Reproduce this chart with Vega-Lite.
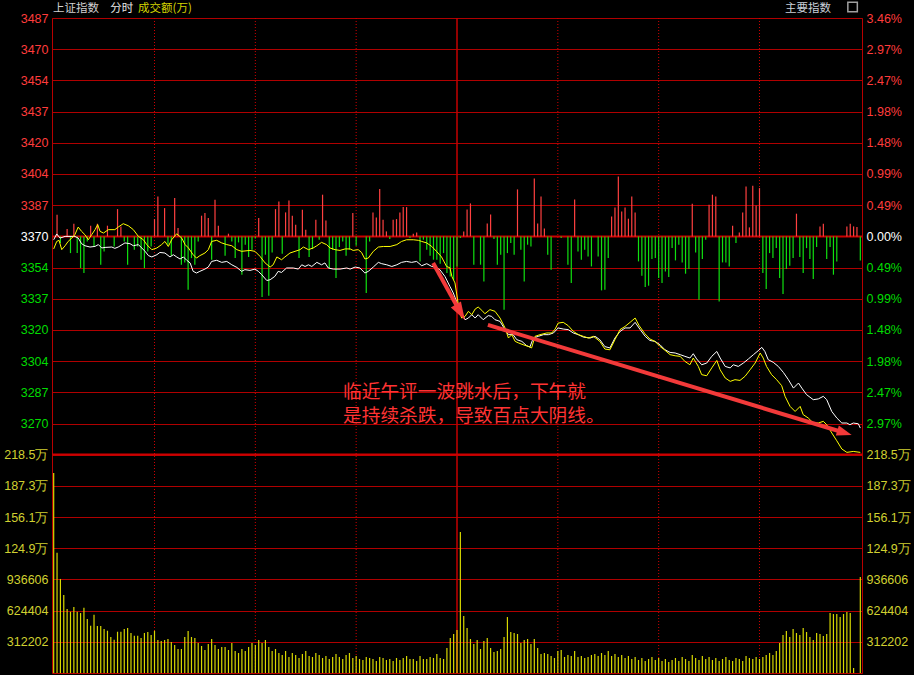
{
"$schema": "https://vega.github.io/schema/vega-lite/v6.json",
"width": 810, "height": 655,
"autosize": {"type": "none"},
"padding": {"left": 52, "top": 18, "right": 52, "bottom": 2},
"background": "#000000",
"data": {"values": [{}]},
"config": {
  "view": {"stroke": "#b80000", "strokeWidth": 1},
  "axis": {"domain": false, "ticks": false, "labelFont": "Liberation Sans", "labelFontSize": 12.5, "title": null, "labelOverlap": false, "labelFlush": false, "labelBound": false, "gridColor": "#b00000", "gridOpacity": 1, "gridWidth": 1, "labelPadding": 4, "offset": 0}
},
"datasets": {
  "white": [
{"m":0,"p":3368.3},{"m":0.9,"p":3371.4},{"m":1.9,"p":3369.2},{"m":3.4,"p":3370.1},{"m":6.3,"p":3370.1},{"m":7.3,"p":3369.2},{"m":8.3,"p":3366.2},{"m":9.3,"p":3365.1},{"m":10.8,"p":3364.4},{"m":12.3,"p":3364.75},{"m":13.3,"p":3365.7},{"m":14.3,"p":3363.9},{"m":15.3,"p":3364.2},{"m":17.3,"p":3364.4},{"m":18.2,"p":3363.7},{"m":19.2,"p":3364.4},{"m":21.2,"p":3366.6},{"m":22.7,"p":3366.2},{"m":23.7,"p":3365.1},{"m":25.2,"p":3365.7},{"m":26.2,"p":3363.9},{"m":27.2,"p":3362.1},{"m":28.2,"p":3359.8},{"m":29.2,"p":3359.1},{"m":30.7,"p":3360.3},{"m":31.6,"p":3361.5},{"m":33.1,"p":3361.2},{"m":34.6,"p":3359.1},{"m":35.6,"p":3360.3},{"m":36.6,"p":3359.1},{"m":37.6,"p":3358.0},{"m":38.6,"p":3359.1},{"m":39.6,"p":3357.3},{"m":40.6,"p":3355.9},{"m":41.5,"p":3351.4},{"m":42.5,"p":3350.5},{"m":43.5,"p":3351.4},{"m":45.0,"p":3352.6},{"m":46.0,"p":3353.7},{"m":47.0,"p":3356.7},{"m":48.5,"p":3357.3},{"m":50.0,"p":3356.2},{"m":51.5,"p":3356.7},{"m":53.0,"p":3354.9},{"m":54.5,"p":3353.5},{"m":55.9,"p":3351.4},{"m":56.9,"p":3352.3},{"m":58.4,"p":3351.9},{"m":59.9,"p":3352.6},{"m":60.9,"p":3351.4},{"m":61.9,"p":3349.6},{"m":63.4,"p":3346.5},{"m":64.4,"p":3346.9},{"m":65.8,"p":3348.7},{"m":66.8,"p":3351.4},{"m":67.8,"p":3350.8},{"m":69.3,"p":3353.2},{"m":71.3,"p":3353.2},{"m":72.8,"p":3352.6},{"m":73.8,"p":3354.9},{"m":74.8,"p":3354.0},{"m":75.8,"p":3354.9},{"m":76.8,"p":3354.0},{"m":78.3,"p":3356.2},{"m":79.7,"p":3354.9},{"m":80.7,"p":3355.9},{"m":81.7,"p":3353.2},{"m":83.2,"p":3352.6},{"m":85.2,"p":3352.6},{"m":87.2,"p":3353.2},{"m":88.2,"p":3352.6},{"m":89.7,"p":3353.7},{"m":91.1,"p":3353.2},{"m":92.6,"p":3350.5},{"m":93.6,"p":3351.4},{"m":95.1,"p":3353.7},{"m":96.6,"p":3356.2},{"m":97.6,"p":3355.5},{"m":99.1,"p":3354.9},{"m":100.6,"p":3354.0},{"m":102.1,"p":3354.9},{"m":103.5,"p":3356.2},{"m":105.0,"p":3356.7},{"m":106.5,"p":3356.2},{"m":108.0,"p":3356.7},{"m":109.5,"p":3354.4},{"m":111.0,"p":3355.5},{"m":112.5,"p":3354.0},{"m":113.5,"p":3353.7},{"m":114.9,"p":3352.3},{"m":116.4,"p":3348.7},{"m":117.9,"p":3343.3},{"m":118.9,"p":3339.8},{"m":119.9,"p":3335.1},{"m":120.7,"p":3329.8},{"m":121.4,"p":3329.1},{"m":122.4,"p":3325.5},{"m":123.4,"p":3326.4},{"m":124.4,"p":3328.2},{"m":125.4,"p":3326.4},{"m":126.3,"p":3328.2},{"m":127.8,"p":3325.5},{"m":129.3,"p":3327.7},{"m":130.3,"p":3327.3},{"m":131.3,"p":3325.5},{"m":132.8,"p":3324.6},{"m":134.3,"p":3320.2},{"m":135.3,"p":3317.5},{"m":136.7,"p":3317.5},{"m":137.8,"p":3314.8},{"m":139.3,"p":3313.9},{"m":140.7,"p":3311.6},{"m":141.7,"p":3310.9},{"m":142.7,"p":3315.7},{"m":144.2,"p":3316.6},{"m":145.7,"p":3317.5},{"m":147.2,"p":3317.5},{"m":148.7,"p":3318.4},{"m":150.1,"p":3321.1},{"m":151.6,"p":3320.5},{"m":153.1,"p":3320.2},{"m":154.6,"p":3318.4},{"m":156.1,"p":3317.5},{"m":157.6,"p":3316.2},{"m":159.6,"p":3315.7},{"m":161.1,"p":3316.6},{"m":162.5,"p":3314.8},{"m":164.0,"p":3311.1},{"m":165.5,"p":3310.4},{"m":167.0,"p":3315.7},{"m":168.5,"p":3319.2},{"m":170.0,"p":3321.1},{"m":171.5,"p":3321.1},{"m":173.0,"p":3324.1},{"m":174.5,"p":3320.2},{"m":176.0,"p":3316.6},{"m":177.4,"p":3314.4},{"m":178.9,"p":3313.9},{"m":180.4,"p":3312.1},{"m":181.9,"p":3309.4},{"m":183.4,"p":3308.0},{"m":184.9,"p":3307.7},{"m":186.4,"p":3306.8},{"m":187.8,"p":3305.9},{"m":189.3,"p":3305.0},{"m":190.3,"p":3307.3},{"m":191.3,"p":3304.5},{"m":192.8,"p":3301.4},{"m":194.3,"p":3302.3},{"m":195.8,"p":3305.9},{"m":197.3,"p":3308.5},{"m":198.3,"p":3305.0},{"m":199.8,"p":3300.5},{"m":201.3,"p":3299.7},{"m":202.2,"p":3301.4},{"m":203.7,"p":3300.5},{"m":205.2,"p":3302.3},{"m":206.7,"p":3304.5},{"m":208.2,"p":3306.8},{"m":209.6,"p":3308.9},{"m":210.7,"p":3310.7},{"m":211.6,"p":3308.5},{"m":212.6,"p":3304.1},{"m":214.1,"p":3302.7},{"m":215.6,"p":3300.5},{"m":217.1,"p":3297.3},{"m":218.6,"p":3293.4},{"m":220.1,"p":3288.9},{"m":221.6,"p":3291.6},{"m":222.6,"p":3288.9},{"m":224.0,"p":3285.4},{"m":226.0,"p":3282.7},{"m":227.5,"p":3283.1},{"m":229.0,"p":3284.5},{"m":230.0,"p":3282.7},{"m":231.5,"p":3276.4},{"m":233.0,"p":3272.9},{"m":234.5,"p":3270.2},{"m":236.0,"p":3270.2},{"m":236.9,"p":3269.3},{"m":237.9,"p":3270.2},{"m":239.4,"p":3269.8},{"m":240.0,"p":3267.5}
  ],
  "yellow": [
{"m":0,"p":3363.4},{"m":0.9,"p":3367.4},{"m":1.6,"p":3368.0},{"m":2.4,"p":3363.0},{"m":3.4,"p":3365.1},{"m":4.3,"p":3367.4},{"m":5.4,"p":3369.2},{"m":6.3,"p":3371.0},{"m":7.3,"p":3375.1},{"m":8.3,"p":3372.8},{"m":9.3,"p":3371.0},{"m":10.3,"p":3368.3},{"m":11.3,"p":3371.0},{"m":12.3,"p":3373.7},{"m":13.1,"p":3376.4},{"m":13.8,"p":3372.8},{"m":14.8,"p":3371.9},{"m":16.3,"p":3373.7},{"m":18.2,"p":3373.7},{"m":19.2,"p":3375.1},{"m":20.7,"p":3376.9},{"m":22.2,"p":3375.8},{"m":23.7,"p":3373.7},{"m":25.2,"p":3370.1},{"m":26.7,"p":3368.3},{"m":27.7,"p":3365.7},{"m":29.2,"p":3363.0},{"m":30.7,"p":3363.9},{"m":32.1,"p":3365.7},{"m":33.1,"p":3367.4},{"m":34.1,"p":3364.7},{"m":35.1,"p":3368.3},{"m":36.6,"p":3371.5},{"m":38.1,"p":3369.2},{"m":39.1,"p":3365.7},{"m":40.1,"p":3363.9},{"m":41.5,"p":3360.3},{"m":42.5,"p":3358.5},{"m":43.5,"p":3359.8},{"m":45.0,"p":3361.2},{"m":46.0,"p":3363.0},{"m":47.0,"p":3367.4},{"m":48.5,"p":3368.0},{"m":50.0,"p":3366.6},{"m":51.5,"p":3365.7},{"m":53.0,"p":3365.1},{"m":54.5,"p":3363.0},{"m":55.9,"p":3362.1},{"m":58.4,"p":3362.6},{"m":59.9,"p":3362.1},{"m":61.4,"p":3359.4},{"m":62.9,"p":3355.9},{"m":64.4,"p":3353.7},{"m":65.3,"p":3354.9},{"m":66.4,"p":3359.1},{"m":67.8,"p":3357.6},{"m":68.8,"p":3359.1},{"m":70.3,"p":3361.2},{"m":71.8,"p":3362.1},{"m":73.3,"p":3363.0},{"m":74.3,"p":3364.4},{"m":75.8,"p":3363.0},{"m":77.2,"p":3363.9},{"m":78.3,"p":3365.1},{"m":79.7,"p":3366.9},{"m":81.2,"p":3365.7},{"m":82.2,"p":3363.9},{"m":83.7,"p":3363.0},{"m":85.2,"p":3362.6},{"m":86.7,"p":3363.4},{"m":88.2,"p":3363.4},{"m":89.1,"p":3362.6},{"m":90.6,"p":3363.0},{"m":91.6,"p":3361.5},{"m":92.6,"p":3358.0},{"m":93.6,"p":3358.5},{"m":95.1,"p":3362.1},{"m":96.6,"p":3364.4},{"m":98.1,"p":3364.7},{"m":100.1,"p":3364.7},{"m":102.1,"p":3365.7},{"m":103.5,"p":3367.4},{"m":105.0,"p":3368.3},{"m":107.0,"p":3368.3},{"m":108.5,"p":3368.0},{"m":109.5,"p":3367.4},{"m":111.0,"p":3366.6},{"m":112.5,"p":3364.7},{"m":113.9,"p":3362.1},{"m":115.4,"p":3359.1},{"m":116.9,"p":3354.0},{"m":117.9,"p":3353.3},{"m":118.5,"p":3348.5},{"m":119.4,"p":3345.2},{"m":120.1,"p":3337.1},{"m":120.7,"p":3329.8},{"m":121.4,"p":3326.4},{"m":122.4,"p":3327.3},{"m":123.4,"p":3330.0},{"m":124.4,"p":3328.2},{"m":125.4,"p":3331.2},{"m":126.3,"p":3332.3},{"m":127.4,"p":3330.5},{"m":128.3,"p":3328.7},{"m":129.8,"p":3330.9},{"m":131.3,"p":3330.0},{"m":132.8,"p":3326.4},{"m":134.3,"p":3321.1},{"m":135.3,"p":3315.7},{"m":136.3,"p":3317.5},{"m":137.3,"p":3313.9},{"m":138.4,"p":3313.0},{"m":139.7,"p":3312.1},{"m":141.2,"p":3311.2},{"m":142.2,"p":3310.4},{"m":143.2,"p":3316.6},{"m":144.7,"p":3317.5},{"m":146.7,"p":3318.4},{"m":148.2,"p":3318.4},{"m":149.2,"p":3320.5},{"m":150.1,"p":3323.7},{"m":151.6,"p":3324.1},{"m":153.1,"p":3322.3},{"m":154.6,"p":3319.3},{"m":156.1,"p":3317.5},{"m":157.6,"p":3316.6},{"m":159.1,"p":3315.7},{"m":160.6,"p":3316.6},{"m":162.5,"p":3313.9},{"m":164.0,"p":3309.8},{"m":165.5,"p":3309.4},{"m":167.0,"p":3314.8},{"m":168.5,"p":3320.2},{"m":170.0,"p":3321.9},{"m":171.5,"p":3324.1},{"m":173.0,"p":3326.4},{"m":174.2,"p":3322.3},{"m":175.9,"p":3318.0},{"m":177.4,"p":3315.2},{"m":178.9,"p":3313.9},{"m":180.4,"p":3311.2},{"m":181.9,"p":3309.1},{"m":183.4,"p":3306.8},{"m":184.9,"p":3306.2},{"m":186.4,"p":3305.9},{"m":187.8,"p":3303.2},{"m":189.3,"p":3301.4},{"m":190.3,"p":3305.0},{"m":191.8,"p":3300.5},{"m":192.8,"p":3296.1},{"m":194.3,"p":3295.5},{"m":195.8,"p":3299.7},{"m":197.3,"p":3303.7},{"m":198.3,"p":3298.7},{"m":199.8,"p":3294.3},{"m":201.3,"p":3292.5},{"m":202.7,"p":3293.4},{"m":204.2,"p":3293.0},{"m":205.7,"p":3295.2},{"m":207.2,"p":3298.7},{"m":208.7,"p":3302.3},{"m":210.2,"p":3307.7},{"m":211.1,"p":3305.0},{"m":212.1,"p":3300.5},{"m":213.6,"p":3296.1},{"m":215.1,"p":3293.4},{"m":216.6,"p":3290.2},{"m":217.6,"p":3284.5},{"m":219.1,"p":3279.1},{"m":220.6,"p":3276.4},{"m":222.1,"p":3279.1},{"m":223.0,"p":3274.7},{"m":224.5,"p":3272.9},{"m":226.0,"p":3270.2},{"m":227.5,"p":3270.2},{"m":229.0,"p":3271.1},{"m":230.0,"p":3269.3},{"m":231.5,"p":3264.9},{"m":233.0,"p":3260.7},{"m":234.5,"p":3256.3},{"m":236.0,"p":3254.5},{"m":237.9,"p":3255.0},{"m":240.0,"p":3254.5}
  ],
  "power": [
{"m":1,"f":21.7},{"m":2,"f":-6.7},{"m":4,"f":7.3},{"m":5,"f":-16.7},{"m":6,"f":12.7},{"m":7,"f":-16.7},{"m":8,"f":-31.7},{"m":9,"f":-36.7},{"m":10,"f":-5},{"m":11,"f":10.7},{"m":12,"f":-10},{"m":13,"f":12.7},{"m":14,"f":-28.3},{"m":15,"f":-15},{"m":16,"f":10.7},{"m":18,"f":-10},{"m":19,"f":27.3},{"m":20,"f":10},{"m":21,"f":-5},{"m":22,"f":-28.3},{"m":24,"f":-13.3},{"m":25,"f":-10},{"m":26,"f":-23.3},{"m":27,"f":-31.7},{"m":28,"f":-15},{"m":29,"f":-10},{"m":30,"f":17.3},{"m":31,"f":40},{"m":33,"f":28.3},{"m":34,"f":-8.3},{"m":35,"f":-19.3},{"m":36,"f":38.3},{"m":37,"f":8.3},{"m":38,"f":-28.3},{"m":39,"f":-26},{"m":40,"f":-53.3},{"m":41,"f":-21.7},{"m":42,"f":-28.3},{"m":43,"f":-5},{"m":44,"f":20.7},{"m":45,"f":23.3},{"m":46,"f":18.3},{"m":47,"f":-23.3},{"m":48,"f":36.7},{"m":49,"f":10.7},{"m":51,"f":-19.3},{"m":52,"f":2.7},{"m":53,"f":-5},{"m":54,"f":-21.7},{"m":55,"f":-6},{"m":56,"f":-38.3},{"m":57,"f":-8.3},{"m":58,"f":-20.7},{"m":59,"f":-13.3},{"m":60,"f":-2},{"m":61,"f":18.3},{"m":62,"f":-60.7},{"m":63,"f":-18.3},{"m":64,"f":-59.3},{"m":65,"f":-16},{"m":66,"f":27.3},{"m":67,"f":35},{"m":68,"f":-17.3},{"m":69,"f":24},{"m":70,"f":36},{"m":71,"f":20.7},{"m":72,"f":11.7},{"m":73,"f":-21.7},{"m":74,"f":26.7},{"m":75,"f":6.7},{"m":76,"f":-20.7},{"m":77,"f":-12.7},{"m":78,"f":16.7},{"m":79,"f":-3.3},{"m":80,"f":41.7},{"m":81,"f":16},{"m":82,"f":-31.7},{"m":83,"f":-13.3},{"m":84,"f":-41.7},{"m":85,"f":-10.7},{"m":86,"f":-5},{"m":87,"f":-19.3},{"m":88,"f":-13.3},{"m":89,"f":23.3},{"m":90,"f":-9.3},{"m":93,"f":-56.7},{"m":94,"f":-5},{"m":95,"f":24},{"m":96,"f":19},{"m":97,"f":47.3},{"m":98,"f":16.7},{"m":99,"f":5},{"m":100,"f":-2.7},{"m":101,"f":16.7},{"m":102,"f":17.3},{"m":103,"f":24},{"m":104,"f":29.3},{"m":105,"f":29.3},{"m":106,"f":-1.7},{"m":107,"f":2.7},{"m":108,"f":4},{"m":109,"f":-25},{"m":110,"f":-3.3},{"m":111,"f":-13.3},{"m":112,"f":-19.3},{"m":113,"f":-23.3},{"m":114,"f":-23.3},{"m":115,"f":-27.3},{"m":116,"f":-16.7},{"m":117,"f":-36.7},{"m":118,"f":-40},{"m":119,"f":-43.3},{"m":120,"f":-30},{"m":121,"f":-1.7},{"m":122,"f":5},{"m":123,"f":27},{"m":124,"f":33},{"m":125,"f":-28.3},{"m":127,"f":-28.3},{"m":128,"f":-45},{"m":129,"f":13},{"m":130,"f":22},{"m":131,"f":-2.7},{"m":132,"f":-28.3},{"m":133,"f":-18.3},{"m":134,"f":-73.3},{"m":135,"f":-16.7},{"m":136,"f":-6.7},{"m":137,"f":-18.3},{"m":138,"f":47},{"m":139,"f":-13.3},{"m":140,"f":-45},{"m":141,"f":-8.3},{"m":142,"f":-10},{"m":143,"f":58},{"m":144,"f":13},{"m":145,"f":40},{"m":146,"f":8},{"m":147,"f":-18.3},{"m":148,"f":-33.3},{"m":151,"f":-1.7},{"m":153,"f":-28.3},{"m":154,"f":-46.7},{"m":155,"f":37},{"m":156,"f":-15},{"m":157,"f":-23.3},{"m":158,"f":-13.3},{"m":159,"f":-20},{"m":160,"f":-30},{"m":162,"f":-20},{"m":163,"f":-54},{"m":164,"f":-53.3},{"m":165,"f":-21.7},{"m":166,"f":20},{"m":167,"f":29},{"m":168,"f":60},{"m":169,"f":25},{"m":170,"f":29},{"m":171,"f":17.7},{"m":172,"f":40},{"m":173,"f":24},{"m":174,"f":-25},{"m":175,"f":-39.3},{"m":176,"f":-50.7},{"m":177,"f":-49.3},{"m":178,"f":-22.7},{"m":179,"f":-21.7},{"m":180,"f":-41.7},{"m":181,"f":-46.7},{"m":182,"f":-35},{"m":183,"f":-40.7},{"m":184,"f":-11.7},{"m":185,"f":-24},{"m":186,"f":-8.3},{"m":187,"f":-26},{"m":188,"f":-37.3},{"m":189,"f":-32.7},{"m":190,"f":32.7},{"m":191,"f":-16},{"m":192,"f":-63.3},{"m":193,"f":-22.7},{"m":194,"f":-3.3},{"m":195,"f":31.7},{"m":196,"f":41.7},{"m":197,"f":40},{"m":198,"f":-65},{"m":199,"f":-26},{"m":200,"f":-26},{"m":201,"f":-30},{"m":202,"f":10.7},{"m":203,"f":-6.7},{"m":204,"f":4},{"m":205,"f":24},{"m":206,"f":50},{"m":207,"f":9},{"m":208,"f":50.7},{"m":209,"f":31},{"m":210,"f":48.3},{"m":211,"f":-36.7},{"m":212,"f":-52.7},{"m":213,"f":-16.7},{"m":214,"f":-21.7},{"m":215,"f":-11.7},{"m":216,"f":-41.7},{"m":217,"f":-57.7},{"m":218,"f":-32.7},{"m":219,"f":-29.3},{"m":220,"f":-21.7},{"m":221,"f":22.7},{"m":222,"f":-20.7},{"m":223,"f":-36.7},{"m":224,"f":-11.7},{"m":225,"f":-22.7},{"m":226,"f":-42.7},{"m":227,"f":-10.7},{"m":228,"f":10},{"m":229,"f":12.7},{"m":230,"f":-22.7},{"m":231,"f":-10.7},{"m":232,"f":-38.3},{"m":233,"f":-25},{"m":236,"f":10},{"m":237,"f":12.7},{"m":238,"f":10},{"m":239,"f":9.3},{"m":240,"f":-24}
  ],
  "volume": [
{"m":0,"v":200.1},{"m":1,"v":120.4},{"m":2,"v":94.1},{"m":3,"v":78.1},{"m":4,"v":64.0},{"m":5,"v":61.3},{"m":6,"v":66.0},{"m":7,"v":61.3},{"m":8,"v":60.0},{"m":9,"v":65.3},{"m":10,"v":54.0},{"m":11,"v":47.3},{"m":12,"v":58.3},{"m":13,"v":47.0},{"m":14,"v":47.0},{"m":15,"v":44.0},{"m":16,"v":42.3},{"m":17,"v":36.0},{"m":18,"v":33.3},{"m":19,"v":41.3},{"m":20,"v":41.3},{"m":21,"v":44.0},{"m":22,"v":45.0},{"m":23,"v":40.0},{"m":24,"v":37.3},{"m":25,"v":37.3},{"m":26,"v":35.0},{"m":27,"v":40.0},{"m":28,"v":41.0},{"m":29,"v":38.0},{"m":30,"v":42.3},{"m":31,"v":33.0},{"m":32,"v":32.0},{"m":33,"v":33.0},{"m":34,"v":34.0},{"m":35,"v":31.0},{"m":36,"v":28.0},{"m":37,"v":24.0},{"m":38,"v":24.0},{"m":39,"v":36.0},{"m":40,"v":42.0},{"m":41,"v":36.0},{"m":42,"v":35.0},{"m":43,"v":30.0},{"m":44,"v":27.0},{"m":45,"v":23.0},{"m":46,"v":29.0},{"m":47,"v":34.0},{"m":48,"v":28.0},{"m":49,"v":24.0},{"m":50,"v":26.0},{"m":51,"v":26.0},{"m":52,"v":23.0},{"m":53,"v":30.0},{"m":54,"v":22.0},{"m":55,"v":20.0},{"m":56,"v":24.0},{"m":57,"v":22.0},{"m":58,"v":26.0},{"m":59,"v":30.0},{"m":60,"v":28.0},{"m":61,"v":33.0},{"m":62,"v":30.0},{"m":63,"v":33.0},{"m":64,"v":26.0},{"m":65,"v":22.0},{"m":66,"v":24.0},{"m":67,"v":20.0},{"m":68,"v":18.0},{"m":69,"v":22.0},{"m":70,"v":16.0},{"m":71,"v":20.0},{"m":72,"v":18.0},{"m":73,"v":15.0},{"m":74,"v":19.0},{"m":75,"v":22.0},{"m":76,"v":17.0},{"m":77,"v":16.0},{"m":78,"v":20.0},{"m":79,"v":18.0},{"m":80,"v":15.0},{"m":81,"v":17.0},{"m":82,"v":14.0},{"m":83,"v":16.0},{"m":84,"v":19.0},{"m":85,"v":16.0},{"m":86,"v":14.0},{"m":87,"v":18.0},{"m":88,"v":20.0},{"m":89,"v":15.0},{"m":90,"v":17.0},{"m":91,"v":14.0},{"m":92,"v":13.0},{"m":93,"v":16.0},{"m":94,"v":15.0},{"m":95,"v":14.0},{"m":96,"v":12.0},{"m":97,"v":16.0},{"m":98,"v":15.0},{"m":99,"v":13.0},{"m":100,"v":14.0},{"m":101,"v":12.0},{"m":102,"v":15.0},{"m":103,"v":13.0},{"m":104,"v":15.0},{"m":105,"v":17.0},{"m":106,"v":14.0},{"m":107,"v":14.0},{"m":108,"v":12.0},{"m":109,"v":17.0},{"m":110,"v":14.0},{"m":111,"v":14.0},{"m":112,"v":16.0},{"m":113,"v":15.0},{"m":114,"v":19.0},{"m":115,"v":15.0},{"m":116,"v":14.0},{"m":117,"v":25.0},{"m":118,"v":35.0},{"m":119,"v":39.0},{"m":120,"v":43.0},{"m":121,"v":141.1},{"m":122,"v":57.0},{"m":123,"v":45.0},{"m":124,"v":34.0},{"m":125,"v":29.0},{"m":126,"v":33.0},{"m":127,"v":24.0},{"m":128,"v":32.0},{"m":129,"v":35.0},{"m":130,"v":25.0},{"m":131,"v":21.0},{"m":132,"v":22.0},{"m":133,"v":24.0},{"m":134,"v":36.0},{"m":135,"v":56.0},{"m":136,"v":41.0},{"m":137,"v":40.0},{"m":138,"v":39.0},{"m":139,"v":30.0},{"m":140,"v":33.0},{"m":141,"v":34.0},{"m":142,"v":29.0},{"m":143,"v":34.0},{"m":144,"v":25.0},{"m":145,"v":19.0},{"m":146,"v":20.0},{"m":147,"v":19.0},{"m":148,"v":17.0},{"m":149,"v":15.0},{"m":150,"v":22.0},{"m":151,"v":23.0},{"m":152,"v":16.0},{"m":153,"v":18.0},{"m":154,"v":17.0},{"m":155,"v":22.0},{"m":156,"v":16.0},{"m":157,"v":17.0},{"m":158,"v":15.0},{"m":159,"v":16.0},{"m":160,"v":18.0},{"m":161,"v":19.0},{"m":162,"v":17.0},{"m":163,"v":20.0},{"m":164,"v":18.0},{"m":165,"v":22.0},{"m":166,"v":17.0},{"m":167,"v":19.0},{"m":168,"v":16.0},{"m":169,"v":18.0},{"m":170,"v":15.0},{"m":171,"v":17.0},{"m":172,"v":14.0},{"m":173,"v":16.0},{"m":174,"v":13.0},{"m":175,"v":15.0},{"m":176,"v":12.0},{"m":177,"v":14.0},{"m":178,"v":16.0},{"m":179,"v":13.0},{"m":180,"v":15.0},{"m":181,"v":12.0},{"m":182,"v":14.0},{"m":183,"v":11.0},{"m":184,"v":13.0},{"m":185,"v":15.0},{"m":186,"v":12.0},{"m":187,"v":16.0},{"m":188,"v":14.0},{"m":189,"v":12.0},{"m":190,"v":18.0},{"m":191,"v":15.0},{"m":192,"v":13.0},{"m":193,"v":17.0},{"m":194,"v":14.0},{"m":195,"v":16.0},{"m":196,"v":13.0},{"m":197,"v":15.0},{"m":198,"v":12.0},{"m":199,"v":14.0},{"m":200,"v":16.0},{"m":201,"v":13.0},{"m":202,"v":12.0},{"m":203,"v":15.0},{"m":204,"v":14.0},{"m":205,"v":12.0},{"m":206,"v":17.0},{"m":207,"v":15.0},{"m":208,"v":14.0},{"m":209,"v":16.0},{"m":210,"v":14.0},{"m":211,"v":16.0},{"m":212,"v":18.0},{"m":213,"v":20.0},{"m":214,"v":18.0},{"m":215,"v":22.0},{"m":216,"v":30.0},{"m":217,"v":38.0},{"m":218,"v":42.0},{"m":219,"v":36.0},{"m":220,"v":44.0},{"m":221,"v":40.0},{"m":222,"v":38.0},{"m":223,"v":45.0},{"m":224,"v":41.0},{"m":225,"v":36.0},{"m":226,"v":33.0},{"m":227,"v":40.0},{"m":228,"v":39.0},{"m":229,"v":37.0},{"m":230,"v":39.0},{"m":231,"v":60.0},{"m":232,"v":59.0},{"m":233,"v":59.0},{"m":234,"v":56.0},{"m":235,"v":59.0},{"m":236,"v":61.0},{"m":237,"v":60.0},{"m":238,"v":5.0},{"m":240,"v":96.1}
  ]
},
"resolve": {"scale": {"y": "independent"}},
"layer": [
  {
    "data": {"values": [{"m": 30}, {"m": 60}, {"m": 90}, {"m": 150}, {"m": 180}, {"m": 210}]},
    "mark": {"type": "rule", "color": "#d00000", "strokeWidth": 1, "strokeDash": [1, 2]},
    "encoding": {"x": {"field": "m", "type": "quantitative", "scale": {"domain": [-0.5, 240.5], "nice": false, "zero": false}, "axis": null}}
  },
  {
    "mark": {"type": "rule", "color": "#c40000", "strokeWidth": 1.5},
    "encoding": {"x": {"datum": 120, "type": "quantitative", "scale": {"domain": [-0.5, 240.5], "nice": false, "zero": false}, "axis": null}}
  },
  {
    "mark": {"type": "rule", "color": "#cc0000", "strokeWidth": 2},
    "encoding": {"y": {"datum": 3370.1, "type": "quantitative", "scale": {"domain": [3136.4, 3487.0], "nice": false, "zero": false}, "axis": null}}
  },
  {
    "mark": {"type": "rule", "color": "#cc0000", "strokeWidth": 2},
    "encoding": {"y": {"datum": 218.5414, "type": "quantitative", "scale": {"domain": [0, 655.4242], "nice": false, "zero": false},
      "axis": {"orient": "right", "offset": 0, "grid": false, "values": [31.2202, 62.4404, 93.6606, 124.8808, 156.101, 187.3212, 218.5414], "labelColor": "#d0d030", "labelExpr": "datum.value >= 100 ? format(datum.value, '.1f') + '万' : format(round(datum.value * 10000), 'd')"}}}
  },
  {
    "data": {"name": "power"},
    "mark": {"type": "rule", "strokeWidth": 1.2},
    "encoding": {
      "x": {"field": "m", "type": "quantitative", "scale": {"domain": [-0.5, 240.5], "nice": false, "zero": false}, "axis": null},
      "y": {"field": "f", "type": "quantitative", "scale": {"domain": [-436.6, 218.4], "nice": false, "zero": false}, "axis": null},
      "y2": {"datum": 0},
      "color": {"condition": {"test": "datum.f > 0", "value": "#ff4040"}, "value": "#10e010"}
    }
  },
  {
    "data": {"name": "volume"},
    "mark": {"type": "rule", "strokeWidth": 1.2, "color": "#d8d800"},
    "encoding": {
      "x": {"field": "m", "type": "quantitative", "scale": {"domain": [-0.5, 240.5], "nice": false, "zero": false}, "axis": null},
      "y": {"field": "v", "type": "quantitative", "scale": {"domain": [0, 655.4242], "nice": false, "zero": false},
        "axis": {"orient": "left", "offset": 0, "grid": true, "values": [31.2202, 62.4404, 93.6606, 124.8808, 156.101, 187.3212, 218.5414], "labelColor": "#d0d030", "labelExpr": "datum.value >= 100 ? format(datum.value, '.1f') + '万' : format(round(datum.value * 10000), 'd')"}},
      "y2": {"datum": 0}
    }
  },
  {
    "data": {"name": "white"},
    "mark": {"type": "line", "color": "#ffffff", "strokeWidth": 1},
    "encoding": {
      "x": {"field": "m", "type": "quantitative", "scale": {"domain": [-0.5, 240.5], "nice": false, "zero": false}, "axis": null},
      "y": {"field": "p", "type": "quantitative", "scale": {"domain": [3136.4, 3487.0], "nice": false, "zero": false},
        "axis": {"orient": "left", "offset": 0, "grid": true,
          "values": [3269.9, 3286.6, 3303.3, 3320.0, 3336.7, 3353.4, 3370.1, 3386.8, 3403.5, 3420.2, 3436.9, 3453.6, 3470.3, 3487.0],
          "labelExpr": "['','3270','3287','3304','3320','3337','3354','3370','3387','3404','3420','3437','3454','3470','3487'][round((datum.value - 3370.1) / 16.7) + 7]",
          "labelColor": {"condition": [{"test": "datum.value > 3371", "value": "#ff3c3c"}, {"test": "datum.value < 3369", "value": "#00dc00"}], "value": "#ffffff"}}}
    }
  },
  {
    "data": {"name": "yellow"},
    "mark": {"type": "line", "color": "#ffff00", "strokeWidth": 1},
    "encoding": {
      "x": {"field": "m", "type": "quantitative", "scale": {"domain": [-0.5, 240.5], "nice": false, "zero": false}, "axis": null},
      "y": {"field": "p", "type": "quantitative", "scale": {"domain": [3136.4, 3487.0], "nice": false, "zero": false},
        "axis": {"orient": "right", "offset": 0, "grid": false,
          "values": [3269.9, 3286.6, 3303.3, 3320.0, 3336.7, 3353.4, 3370.1, 3386.8, 3403.5, 3420.2, 3436.9, 3453.6, 3470.3, 3487.0],
          "labelExpr": "['','2.97%','2.47%','1.98%','1.48%','0.99%','0.49%','0.00%','0.49%','0.99%','1.48%','1.98%','2.47%','2.97%','3.46%'][round((datum.value - 3370.1) / 16.7) + 7]",
          "labelColor": {"condition": [{"test": "datum.value > 3371", "value": "#ff3c3c"}, {"test": "datum.value < 3369", "value": "#00dc00"}], "value": "#ffffff"}}}
    }
  },
  {
    "mark": {"type": "rule", "color": "#f23a3a", "strokeWidth": 4},
    "encoding": {
      "x": {"datum": 112.9, "type": "quantitative", "scale": {"domain": [-0.5, 240.5], "nice": false, "zero": false}, "axis": null},
      "y": {"datum": 3355.9, "type": "quantitative", "scale": {"domain": [3136.4, 3487.0], "nice": false, "zero": false}, "axis": null},
      "x2": {"datum": 121.0}, "y2": {"datum": 3329.5}
    }
  },
  {
    "mark": {"type": "point", "shape": "M0,-1L0.65,1L-0.65,1Z", "filled": true, "color": "#f23a3a", "opacity": 1, "size": 324, "angle": 150},
    "encoding": {
      "x": {"datum": 121.0, "type": "quantitative", "scale": {"domain": [-0.5, 240.5], "nice": false, "zero": false}, "axis": null},
      "y": {"datum": 3329.5, "type": "quantitative", "scale": {"domain": [3136.4, 3487.0], "nice": false, "zero": false}, "axis": null}
    }
  },
  {
    "mark": {"type": "rule", "color": "#f23a3a", "strokeWidth": 4},
    "encoding": {
      "x": {"datum": 129.2, "type": "quantitative", "scale": {"domain": [-0.5, 240.5], "nice": false, "zero": false}, "axis": null},
      "y": {"datum": 3322.7, "type": "quantitative", "scale": {"domain": [3136.4, 3487.0], "nice": false, "zero": false}, "axis": null},
      "x2": {"datum": 235.3}, "y2": {"datum": 3265.0}
    }
  },
  {
    "mark": {"type": "point", "shape": "M0,-1L0.7,1L-0.7,1Z", "filled": true, "color": "#f23a3a", "opacity": 1, "size": 225, "angle": 106.8},
    "encoding": {
      "x": {"datum": 235.3, "type": "quantitative", "scale": {"domain": [-0.5, 240.5], "nice": false, "zero": false}, "axis": null},
      "y": {"datum": 3265.0, "type": "quantitative", "scale": {"domain": [3136.4, 3487.0], "nice": false, "zero": false}, "axis": null}
    }
  },
  {
    "mark": {"type": "text", "text": ["临近午评一波跳水后，下午就", "是持续杀跌，导致百点大阴线。"], "lineHeight": 24, "align": "left", "baseline": "middle", "font": "Noto Sans CJK SC", "fontSize": 18.7, "color": "#ff3333"},
    "encoding": {
      "x": {"datum": 86.1, "type": "quantitative", "scale": {"domain": [-0.5, 240.5], "nice": false, "zero": false}, "axis": null},
      "y": {"datum": 3286.8, "type": "quantitative", "scale": {"domain": [3136.4, 3487.0], "nice": false, "zero": false}, "axis": null}
    }
  },
  {
    "mark": {"type": "text", "text": "上证指数", "align": "left", "baseline": "middle", "font": "Noto Sans CJK SC", "fontSize": 11.5, "color": "#d0d0d0"},
    "encoding": {
      "x": {"datum": -0.2, "type": "quantitative", "scale": {"domain": [-0.5, 240.5], "nice": false, "zero": false}, "axis": null},
      "y": {"datum": 3491.6, "type": "quantitative", "scale": {"domain": [3136.4, 3487.0], "nice": false, "zero": false}, "axis": null}
    }
  },
  {
    "mark": {"type": "text", "text": "分时", "align": "left", "baseline": "middle", "font": "Noto Sans CJK SC", "fontSize": 11.5, "color": "#e8e8e8"},
    "encoding": {
      "x": {"datum": 16.8, "type": "quantitative", "scale": {"domain": [-0.5, 240.5], "nice": false, "zero": false}, "axis": null},
      "y": {"datum": 3491.6, "type": "quantitative", "scale": {"domain": [3136.4, 3487.0], "nice": false, "zero": false}, "axis": null}
    }
  },
  {
    "mark": {"type": "text", "text": "成交额(万)", "align": "left", "baseline": "middle", "font": "Noto Sans CJK SC", "fontSize": 11.5, "color": "#d4d400"},
    "encoding": {
      "x": {"datum": 25.1, "type": "quantitative", "scale": {"domain": [-0.5, 240.5], "nice": false, "zero": false}, "axis": null},
      "y": {"datum": 3491.6, "type": "quantitative", "scale": {"domain": [3136.4, 3487.0], "nice": false, "zero": false}, "axis": null}
    }
  },
  {
    "mark": {"type": "text", "text": "主要指数", "align": "left", "baseline": "middle", "font": "Noto Sans CJK SC", "fontSize": 11.5, "color": "#c8d0d8"},
    "encoding": {
      "x": {"datum": 217.6, "type": "quantitative", "scale": {"domain": [-0.5, 240.5], "nice": false, "zero": false}, "axis": null},
      "y": {"datum": 3491.6, "type": "quantitative", "scale": {"domain": [3136.4, 3487.0], "nice": false, "zero": false}, "axis": null}
    }
  },
  {
    "mark": {"type": "point", "shape": "square", "filled": false, "color": "#a0a0a0", "strokeWidth": 1.5, "size": 90, "opacity": 1},
    "encoding": {
      "x": {"datum": 237.7, "type": "quantitative", "scale": {"domain": [-0.5, 240.5], "nice": false, "zero": false}, "axis": null},
      "y": {"datum": 3492.9, "type": "quantitative", "scale": {"domain": [3136.4, 3487.0], "nice": false, "zero": false}, "axis": null}
    }
  }
]
}
